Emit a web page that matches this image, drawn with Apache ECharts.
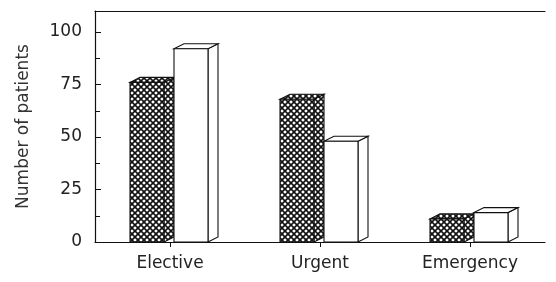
<!DOCTYPE html>
<html>
<head>
<meta charset="utf-8">
<script src="https://cdn.jsdelivr.net/npm/echarts@6/dist/echarts.min.js"></script>
<style>
  html, body { margin: 0; padding: 0; background: #fff; }
  #chart { width: 556px; height: 282px; }
</style>
</head>
<body>
<div id="chart"></div>
<script>
// data
const categories = ['Elective', 'Urgent', 'Emergency'];
const hatchedValues = [76, 68, 11];
const openValues = [92, 48, 14];
const yTicks = [0, 25, 50, 75, 100];

// crosshatch fill for the shaded bars
const pc = document.createElement('canvas');
pc.width = 6; pc.height = 6;
const pctx = pc.getContext('2d');
pctx.fillStyle = '#fff';
pctx.fillRect(0, 0, 6, 6);
pctx.strokeStyle = '#111';
pctx.lineWidth = 1.6;
pctx.beginPath();
pctx.moveTo(-1, -1); pctx.lineTo(7, 7);
pctx.moveTo(7, -1); pctx.lineTo(-1, 7);
pctx.stroke();
const hatch = { image: pc, repeat: 'repeat' };

const depth = 10, rise = 5;

// front face + side + top, all placed from the axis coords
function box(fill, offL, offR) {
  return function (params, api) {
    const top = api.coord([api.value(0), api.value(1)]);
    const base = api.coord([api.value(0), 0]);
    const xl = top[0] + offL, xr = top[0] + offR;
    const yt = top[1], yb = base[1];
    const st = { fill: fill, stroke: '#111', lineWidth: 1.1 };
    return {
      type: 'group',
      children: [
        { type: 'polygon', shape: { points: [[xr, yb], [xr + depth, yb - rise], [xr + depth, yt - rise], [xr, yt]] }, style: st },
        { type: 'polygon', shape: { points: [[xl, yt], [xl + depth, yt - rise], [xr + depth, yt - rise], [xr, yt]] }, style: st },
        { type: 'rect', shape: { x: xl, y: yt, width: xr - xl, height: yb - yt }, style: st }
      ]
    };
  };
}

const chart = echarts.init(document.getElementById('chart'));

const font = 'DejaVu Sans';

chart.setOption({
  animation: false,
  grid: { left: 95, right: 11, top: 11, bottom: 40 },
  xAxis: [{
    type: 'category',
    data: categories,
    axisLine: { lineStyle: { color: '#111', width: 1.2 } },
    axisTick: { show: true, alignWithLabel: true, length: 5, lineStyle: { color: '#111' } },
    axisLabel: { fontFamily: font, fontSize: 17, color: '#222', margin: 13 }
  }, {
    type: 'category',
    data: categories,
    position: 'top',
    axisLine: { lineStyle: { color: '#111', width: 1.2 } },
    axisTick: { show: false },
    axisLabel: { show: false }
  }],
  yAxis: {
    type: 'value',
    min: 0,
    max: 110,
    interval: 25,
    name: 'Number of patients',
    nameLocation: 'middle',
    nameGap: 63,
    nameTextStyle: { fontFamily: font, fontSize: 17, color: '#333' },
    axisLine: { show: true, lineStyle: { color: '#111', width: 1.2 } },
    axisTick: { show: true, inside: true, length: 6, lineStyle: { color: '#111' } },
    minorTick: { show: true, splitNumber: 2, length: 5, lineStyle: { color: '#111' } },
    splitLine: { show: false },
    axisLabel: {
      fontFamily: font, fontSize: 17, color: '#222', margin: 13,
      formatter: v => (yTicks.indexOf(v) >= 0 ? String(v) : '')
    }
  },
  series: [{
    type: 'custom',
    renderItem: box(hatch, -40, -6),
    data: hatchedValues.map((v, i) => [i, v])
  }, {
    type: 'custom',
    renderItem: box('#fff', 4, 38),
    data: openValues.map((v, i) => [i, v])
  }]
});
</script>
</body>
</html>
